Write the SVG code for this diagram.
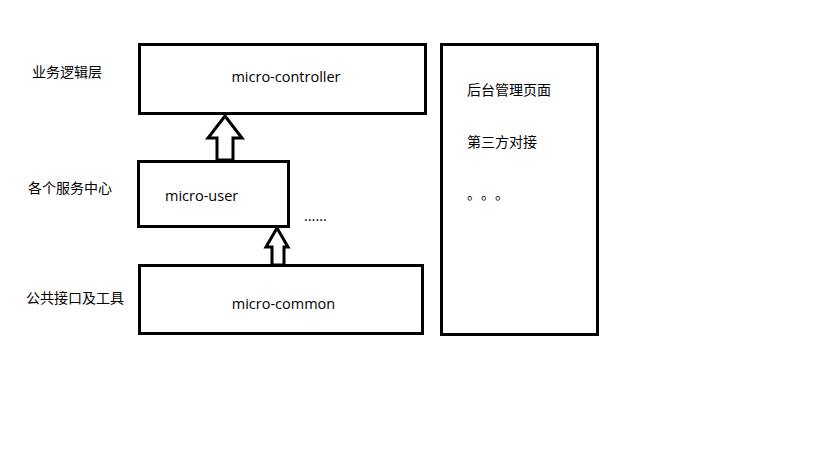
<svg xmlns="http://www.w3.org/2000/svg" width="819" height="460" viewBox="0 0 819 460">
<style>
.box{fill:#fff;stroke:#000;stroke-width:3}
.arr{fill:#fff;stroke:#000;stroke-width:3;stroke-linejoin:miter}
.t{font-family:"Open Sans","Liberation Sans","Noto Sans CJK SC",sans-serif;font-size:14.5px;fill:#000}
.c{font-family:"Noto Sans CJK SC","Liberation Sans",sans-serif;font-size:14px;fill:#000}
</style>
<rect width="819" height="460" fill="#fff"/>
<g id="connectors">
<path class="arr" d="M225,116 L242,138 L233,138 L233,160 L217,160 L217,138 L208,138 Z"/>
<path class="arr" d="M277,228 L288,247 L284,247 L284,265 L272,265 L272,247 L266,247 Z"/>
</g>
<g id="controller">
<rect class="box" x="139.5" y="44.5" width="286" height="69"/>
<text class="t" x="286" y="82" text-anchor="middle">micro-controller</text>
</g>
<g id="user">
<rect class="box" x="138.5" y="161.5" width="150" height="65"/>
<text class="t" x="165" y="201">micro-user</text>
</g>
<g id="common">
<rect class="box" x="139.5" y="265.5" width="283" height="68"/>
<text class="t" x="283.5" y="309" text-anchor="middle">micro-common</text>
</g>
<g id="side">
<rect class="box" x="441.5" y="44.5" width="156" height="290"/>
<text class="c" x="467" y="95">后台管理页面</text>
<text class="c" x="467" y="147">第三方对接</text>
<text class="c" x="467 481 495" y="199">。。。</text>
</g>
<g id="labels">
<text class="c" x="32" y="77">业务逻辑层</text>
<text class="c" x="28" y="193">各个服务中心</text>
<text class="c" x="26" y="303">公共接口及工具</text>
<text class="t" x="304" y="221">......</text>
</g>
</svg>
